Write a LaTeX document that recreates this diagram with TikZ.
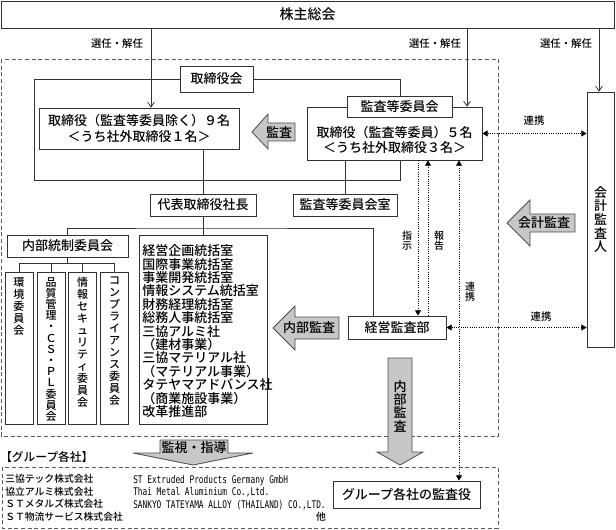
\documentclass[tikz,border=0pt]{standalone}
\usepackage{fontspec}
\setmainfont{Noto Sans CJK JP}[UprightFont=* Medium]
\newfontfamily\engfont[FakeStretch=0.74]{DejaVu Sans Mono}
\usetikzlibrary{arrows.meta}
\definecolor{linec}{gray}{0.2}
\definecolor{dashc}{gray}{0.35}
\definecolor{arrowfill}{gray}{0.78}
\definecolor{arrowline}{gray}{0.3}
\tikzset{
  box/.style={draw=linec, line width=0.6pt, fill=white, inner sep=0pt, align=center,
    font=\fontsize{9.75}{11.5}\selectfont},
  conn/.style={draw=linec, line width=0.6pt},
  elect/.style={conn, -{Straight Barb[length=3.5pt,width=5pt]}},
  dotline/.style={draw=black, densely dotted, line width=0.7pt},
  dottip/.style={-{Triangle[length=4pt,width=4.5pt]}},
  dotboth/.style={{Triangle[length=4pt,width=4.5pt]}-{Triangle[length=4pt,width=4.5pt]}},
  lbl/.style={inner sep=0pt, font=\fontsize{7.8}{9}\selectfont},
  vlbl/.style={inner sep=0pt, align=center, font=\fontsize{7.5}{7.8}\selectfont},
  vtext/.style={anchor=north, inner sep=0pt, align=center, font=\fontsize{8.25}{9}\selectfont},
  arrowtext/.style={inner sep=0pt, align=center, font=\fontsize{9.75}{10}\selectfont},
  blockarrow/.style={fill=arrowfill, draw=arrowline, line width=0.6pt, line join=miter},
  dashframe/.style={draw=dashc, dash pattern=on 3pt off 2pt, line width=0.6pt},
}
\begin{document}
\begin{tikzpicture}[x=0.75pt, y=-0.75pt]
\useasboundingbox (0,0) rectangle (616,530);
\draw[dashframe] (1,59) rectangle (498,436);
\draw[dashframe] (2,467) rectangle (498,528);

\node[box, minimum width=459.75pt, minimum height=20.25pt, font=\fontsize{10.5}{12}\selectfont] (kabunushi) at (307.5,14.5) {株主総会};

\coordinate (sx1) at (151,0);
\coordinate (sx2) at (467,0);
\coordinate (sx3) at (599,0);
\coordinate (encl) at (34,180);
\coordinate (encr) at (400,180);
\coordinate (bus) at (203,228);
\coordinate (kansabux) at (373,0);
\coordinate (cbus) at (67.5,263);
\coordinate (shijix) at (418,0);
\coordinate (hokokux) at (428,0);
\coordinate (renkeix) at (459,0);

\node[box, minimum width=54.75pt, minimum height=19.5pt] (torishimariyakukai) at (216.5,79) {取締役会};
\node[box, minimum width=131.25pt, minimum height=39.75pt] (kansaiin) at (394.5,133.5) {};
\node[box, minimum width=20.25pt, minimum height=191.25pt] (kaikei) at (600.5,219.5) {};

\draw[conn] (torishimariyakukai.west) -| (encl) -- (encr) -- (encr |- kansaiin.south);
\draw[conn] (torishimariyakukai.east) -| (encr |- 0,96);

\node[box, minimum width=150pt, minimum height=30.75pt, font=\fontsize{9.75}{12}\selectfont] (torishimariyaku) at (139,128.5) {取締役（監査等委員除く）９名\\＜うち社外取締役１名＞};
\node[inner sep=0pt, align=center, font=\fontsize{9.75}{11.25}\selectfont] (kansaiintext) at (394.5,140) {取締役（監査等委員）５名\\＜うち社外取締役３名＞};
\node[box, minimum width=78.75pt, minimum height=15.75pt] (kansaiinkai) at (399.5,106.5) {監査等委員会};
\node[inner sep=0pt, align=center, font=\fontsize{9.75}{10.3}\selectfont] (kaikeitext) at (kaikei) {会\\計\\監\\査\\人};

\draw[elect] (kabunushi.south -| sx1) -- (torishimariyaku.north -| sx1);
\draw[elect] (kabunushi.south -| sx2) -- (kansaiin.north -| sx2);
\draw[elect] (kabunushi.south -| sx3) -- (kaikei.north -| sx3);
\node[lbl] (sennin1) at (117,44) {選任・解任};
\node[lbl] (sennin2) at (435,44) {選任・解任};
\node[lbl] (sennin3) at (566,44) {選任・解任};

\node[box, minimum width=79.5pt, minimum height=16.5pt] (shacho) at (203,205) {代表取締役社長};
\node[box, minimum width=78pt, minimum height=16.5pt] (kansaiinkaishitsu) at (345,205) {監査等委員会室};
\draw[conn] (torishimariyaku.south -| shacho.north) -- (shacho.north);
\draw[conn] (kansaiin.south -| kansaiinkaishitsu.north) -- (kansaiinkaishitsu.north);

\node[box, minimum width=90.75pt, minimum height=16.5pt] (naibutousei) at (67.5,246) {内部統制委員会};
\node[box, minimum width=96pt, minimum height=141.75pt] (bumon) at (203,329.5) {};
\node[anchor=north west, inner sep=0pt, align=left, font=\fontsize{9.75}{10.05}\selectfont] (bumontext) at (142,244.5) {経営企画統括室\\国際事業統括室\\事業開発統括室\\情報システム統括室\\財務経理統括室\\総務人事統括室\\三協アルミ社\\（建材事業）\\三協マテリアル社\\（マテリアル事業）\\タテヤマアドバンス社\\（商業施設事業）\\改革推進部};
\node[box, minimum width=73.5pt, minimum height=17.25pt] (keieikansa) at (397,327.5) {経営監査部};
\draw[conn] (shacho.south) -- (bus);
\draw[conn] (naibutousei.north) |- (bus) -- (bus -| kansabux) -- (keieikansa.north -| kansabux);
\draw[conn] (bus) -- (bumon.north);

\draw[conn] (naibutousei.south) -- (cbus);
\foreach \i/\xx in {1/19,2/51,3/82.5,4/114.5}{
  \node[box, minimum width=21pt, minimum height=114pt] (iinkai\i) at (\xx,348) {};
  \draw[conn] (iinkai\i.north |- cbus) -- (iinkai\i.north);
}
\draw[conn] (iinkai1.north |- cbus) -- (iinkai4.north |- cbus);
\node[vtext] (iinkaitext1) at (19,277) {環\\境\\委\\員\\会};
\node[vtext, font=\fontsize{8.25}{8.4}\selectfont] (iinkaitext2) at (51,277) {品\\質\\管\\理\\・\\Ｃ\\Ｓ\\・\\Ｐ\\Ｌ\\委\\員\\会};
\node[vtext] (iinkaitext3) at (82.5,277) {情\\報\\セ\\キ\\ュ\\リ\\テ\\ィ\\委\\員\\会};
\node[vtext] (iinkaitext4) at (114.5,277) {コ\\ン\\プ\\ラ\\イ\\ア\\ン\\ス\\委\\員\\会};

\node[box, minimum width=110.25pt, minimum height=20.25pt] (gruppukansa) at (406.5,494.5) {グループ各社の監査役};

\draw[dotline, dottip] (kansaiin.south -| shijix) -- (keieikansa.north -| shijix);
\draw[dotline, dottip] (keieikansa.north -| hokokux) -- (kansaiin.south -| hokokux);
\draw[dotline, dotboth] (kansaiin.south -| renkeix) -- (gruppukansa.north -| renkeix);
\draw[dotline, dotboth] (kansaiin.east) -- (kansaiin.east -| kaikei.west);
\draw[dotline, dotboth] (keieikansa.east) -- (keieikansa.east -| kaikei.west);
\node[lbl] (renkei1) at (534,121) {連携};
\node[lbl] (renkei2) at (541,317) {連携};
\node[vlbl] (shiji) at (407,241) {指\\示};
\node[vlbl] (hokoku) at (439,241) {報\\告};
\node[vlbl] (renkei3) at (470,292) {連\\携};

\draw[blockarrow] (252,132) -- (268,114) -- (268,123) -- (295,123) -- (295,141) -- (268,141) -- (268,149) -- cycle;
\node[arrowtext] (kansaarrow) at (279,132) {監査};
\draw[blockarrow] (507,223) -- (530,200) -- (530,214) -- (575,214) -- (575,232) -- (530,232) -- (530,246) -- cycle;
\node[arrowtext] (kaikeiarrow) at (544,223) {会計監査};
\draw[blockarrow] (273,328) -- (295,306) -- (295,317) -- (339,317) -- (339,339) -- (295,339) -- (295,350) -- cycle;
\node[arrowtext] (naibuarrow1) at (309,328) {内部監査};
\draw[blockarrow] (388,358) -- (412,358) -- (412,452) -- (423,452) -- (400,465) -- (377,452) -- (388,452) -- cycle;
\node[arrowtext] (naibuarrow2) at (400,406) {内\\部\\監\\査};
\draw[blockarrow] (160,440) -- (228,440) -- (228,453) -- (253,453) -- (193,465) -- (133,453) -- (160,453) -- cycle;
\node[arrowtext] (kanshiarrow) at (194,448) {監視・指導};

\node[anchor=west, inner sep=0pt, font=\fontsize{8.8}{10}\selectfont] (gruppu) at (0,457) {【グループ各社】};
\node[anchor=north west, inner sep=0pt, align=left, font=\fontsize{7.35}{9.5}\selectfont] (kaisha) at (5,474) {三協テック株式会社\\協立アルミ株式会社\\ＳＴメタルズ株式会社\\ＳＴ物流サービス株式会社};
\node[anchor=north west, inner sep=0pt, align=left, font=\engfont\fontsize{7.9}{9.5}\selectfont] (kaigai) at (133,475) {ST Extruded Products Germany GmbH\\Thai Metal Aluminium Co.,Ltd.\\SANKYO TATEYAMA ALLOY (THAILAND) CO.,LTD.};
\node[inner sep=0pt, font=\fontsize{7.35}{9}\selectfont] (hoka) at (321,517) {他};
\end{tikzpicture}
\end{document}
